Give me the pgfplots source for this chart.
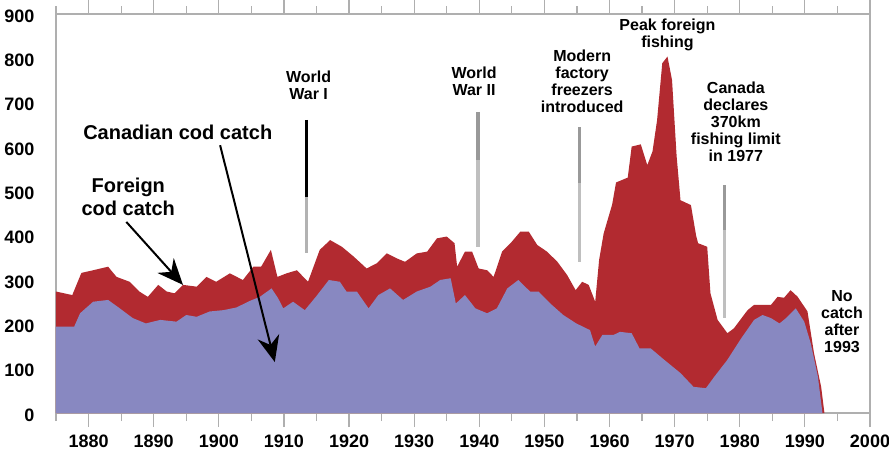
\documentclass[border=0pt]{standalone}
\usepackage{fontspec}
\setmainfont{Liberation Sans}
\usepackage{pgfplots}
\usepackage{pgfplotstable}
\pgfplotsset{compat=1.18}
\usetikzlibrary{arrows.meta}
\definecolor{codred}{RGB}{178,42,48}
\definecolor{codblue}{RGB}{136,136,193}
\definecolor{axgray}{RGB}{175,175,175}
\newcommand{\annot}{\fontsize{16}{17}\selectfont\bfseries}
\newcommand{\bigannot}{\fontsize{20}{23}\selectfont\bfseries}

\pgfplotstableread{
year total
1875 274
1877.5 266
1878.9 316
1880.7 322
1883 330
1884.3 307
1886.3 296
1887.8 274
1889.1 262
1890.7 289
1892 274
1893.2 270
1894.5 289
1896.6 285
1898.1 307
1899.6 296
1901.7 315
1903.7 300
1905.3 330
1906.5 330
1908 368
1909 307
1910.4 315
1912 322
1913.7 296
1915.5 368
1917.1 390
1918.9 375
1920.7 353
1922.7 326
1924.3 338
1925.8 360
1927.3 349
1928.6 341
1930.4 360
1932 364
1933.5 394
1935 398
1936.2 383
1936.6 330
1937.8 364
1938.9 364
1939.9 326
1941.2 322
1942.2 307
1943.5 364
1944.8 383
1946.3 409
1947.6 409
1948.9 379
1950.4 364
1952 341
1953.5 311
1954.8 277
1955.8 296
1956.8 289
1957.8 251
1958.4 345
1959.1 405
1960.4 470
1961 520
1962.8 531
1963.4 601
1964.8 606
1965.8 559
1966.6 590
1967.3 660
1968.1 789
1968.9 804
1969.6 751
1970.3 580
1970.9 480
1972.5 469
1973.3 400
1973.6 383
1975 375
1975.5 270
1976.6 210
1978.1 180
1979.1 191
1981.2 232
1982.2 244
1984.8 244
1985.8 262
1986.8 260
1987.8 277
1988.9 262
1990.4 229
1991.4 135
1992.5 59
1993 0
}\totaltable

\pgfplotstableread{
year canadian
1875 195
1877.8 195
1878.7 225
1880.7 251
1883 255
1884.8 236
1886.8 214
1888.8 202
1891 210
1893.5 206
1895 221
1896.6 217
1898.6 229
1900.7 232
1902.7 238
1904.8 253
1906.3 262
1908.1 281
1909.1 259
1909.9 236
1911.4 251
1913.2 232
1914.9 262
1916.9 300
1918.6 296
1919.6 274
1921.2 274
1923 236
1924.5 266
1926.3 281
1928.3 255
1930.4 274
1932.5 285
1934 300
1935.6 304
1936.4 247
1937.8 266
1939.4 236
1941.2 225
1942.7 236
1944.3 281
1946 300
1947.8 274
1949.1 274
1950.9 247
1952.9 221
1954.9 202
1957 187
1957.8 150
1958.9 176
1960.6 176
1961.6 183
1963.4 180
1964.6 146
1966.3 146
1968.4 120
1970.9 90
1972.9 59
1974.8 56
1976.1 82
1978.1 120
1980.2 168
1982.2 210
1983.5 221
1984.8 214
1986.1 202
1987.1 214
1988.6 236
1989.9 206
1990.9 157
1992 82
1992.7 0
}\canadiantable

\begin{document}
\begin{tikzpicture}
\useasboundingbox (-56pt,-40pt) rectangle (833pt,413pt);
\begin{axis}[
  at={(0,0)}, anchor=south west,
  width=814pt, height=399pt, scale only axis,
  xmin=1875, xmax=2000, ymin=0, ymax=900,
  xtick={1880,1890,...,2000},
  minor xtick={1875,1885,...,1995},
  ytick={0,100,...,900},
  tick align=outside,
  major tick length=14pt,
  minor tick length=8pt,
  xtick style={axgray, line width=1.2pt},
  minor x tick style={axgray, line width=1.2pt},
  ytick style={draw=none},
  axis line style={axgray, line width=1.2pt},
  /pgf/number format/1000 sep={},
  /pgf/number format/assume math mode=true,
  ticklabel style={font=\fontsize{18}{20}\selectfont\bfseries},
  x tick label style={yshift=-4pt},
  y tick label style={xshift=-4pt, yshift=-2pt},
  clip=false,
  axis on top=false,
]
\addplot[draw=none, fill=codred] table[x=year, y=total] {\totaltable} \closedcycle;
\addplot[draw=none, fill=codblue] table[x=year, y=canadian] {\canadiantable} \closedcycle;

% annotation lines
\draw[black, line width=3.2pt] (axis cs:1913.5,661) -- (axis cs:1913.5,487);
\draw[gray!60, line width=3.2pt] (axis cs:1913.5,487) -- (axis cs:1913.5,361);
\draw[gray!80, line width=3.2pt] (axis cs:1939.8,679) -- (axis cs:1939.8,571);
\draw[gray!50, line width=3.2pt] (axis cs:1939.8,571) -- (axis cs:1939.8,374);
\draw[gray!80, line width=3.2pt] (axis cs:1955.4,645) -- (axis cs:1955.4,519);
\draw[gray!50, line width=3.2pt] (axis cs:1955.4,519) -- (axis cs:1955.4,341);
\draw[gray!80, line width=3.2pt] (axis cs:1977.6,514) -- (axis cs:1977.6,413);
\draw[gray!50, line width=3.2pt] (axis cs:1977.6,413) -- (axis cs:1977.6,214);

% arrows
\draw[black, line width=2pt, -{Stealth[length=26pt,width=22pt]}] (axis cs:1900.2,604) -- (axis cs:1908.6,115);
\draw[black, line width=2pt, -{Stealth[length=26pt,width=22pt]}] (axis cs:1885.8,431) -- (axis cs:1894.5,289);

% texts
\node[font=\bigannot] at (axis cs:1893.7,634) {Canadian cod catch};
\node[font=\bigannot, align=center] at (axis cs:1886.1,488) {Foreign\\cod catch};
\node[font=\annot, align=center] at (axis cs:1913.8,740) {World\\War I};
\node[font=\annot, align=center] at (axis cs:1939.2,749) {World\\War II};
\node[font=\annot, align=center] at (axis cs:1955.8,748) {Modern\\factory\\freezers\\introduced};
\node[font=\annot, align=center] at (axis cs:1968.9,853) {Peak foreign\\fishing};
\node[font=\annot, align=center] at (axis cs:1979.4,656) {Canada\\declares\\370km\\fishing limit\\in 1977};
\node[font=\annot, align=center] at (axis cs:1995.7,207) {No\\catch\\after\\1993};
\end{axis}
\end{tikzpicture}
\end{document}
